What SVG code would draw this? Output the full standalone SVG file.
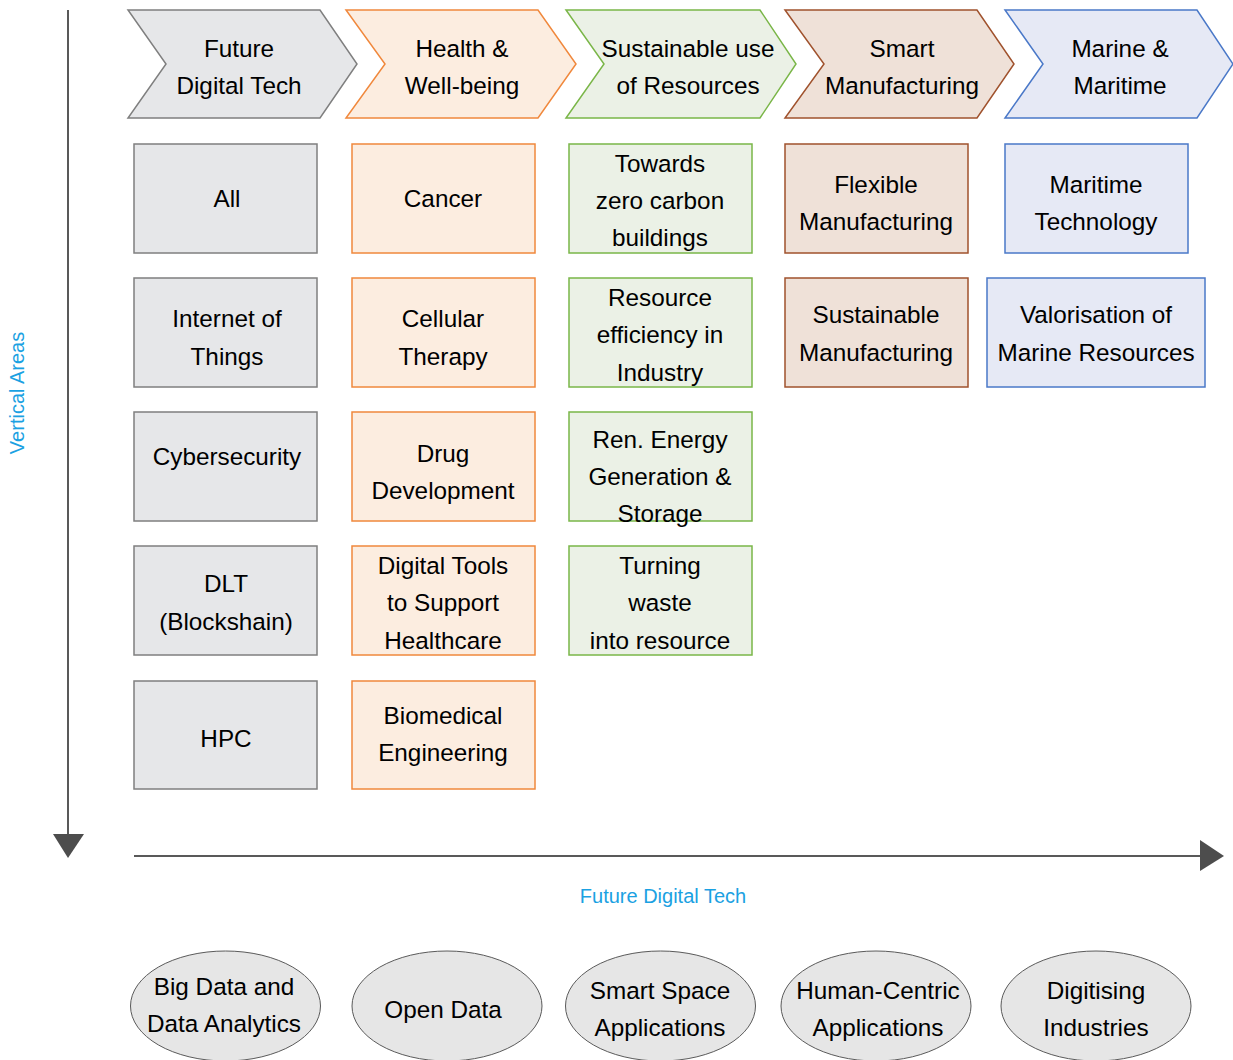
<svg xmlns="http://www.w3.org/2000/svg" width="1233" height="1060" viewBox="0 0 1233 1060">
<style>
text{font-family:"Liberation Sans",Arial,Helvetica,sans-serif;font-size:24.3px;fill:#000;text-anchor:middle;dominant-baseline:central}
.grey{fill:#e6e7e9;stroke:#7f7f7f;stroke-width:1.5}
.orange{fill:#fcede0;stroke:#f0883c;stroke-width:1.5}
.green{fill:#ebf1e6;stroke:#7ab648;stroke-width:1.5}
.brown{fill:#efe1d8;stroke:#a0522d;stroke-width:1.5}
.blue{fill:#e6e9f5;stroke:#4a78c8;stroke-width:1.5}
.ell{fill:#e6e6e6;stroke:#5a5a5a;stroke-width:1}
.axis{stroke:#595959;stroke-width:2;fill:none}
.head{fill:#4d4d4d}
.lbl{fill:#1ba1e2;font-size:20px}
</style>
<g id="axes">
<line class="axis" x1="68" y1="10" x2="68" y2="836"/>
<polygon class="head" points="53,834 84,834 68,858"/>
<line class="axis" x1="134" y1="856" x2="1202" y2="856"/>
<polygon class="head" points="1200,840 1224,856 1200,871"/>
</g>
<text class="lbl" x="0" y="0" transform="translate(17,393) rotate(-90)">Vertical Areas</text>
<text class="lbl" x="663" y="896">Future Digital Tech</text>

<g id="h1"><polygon class="grey" points="128,10 320,10 357,64 320,118 128,118 166,64"/><text x="239" y="48">Future</text><text x="239" y="85">Digital Tech</text></g>
<g id="h2"><polygon class="orange" points="346,10 538,10 576,64 538,118 346,118 385,64"/><text x="462" y="48">Health &amp;</text><text x="462" y="85">Well-being</text></g>
<g id="h3"><polygon class="green" points="566,10 760,10 796,64 760,118 566,118 604,64"/><text x="688" y="48">Sustainable use</text><text x="688" y="85">of Resources</text></g>
<g id="h4"><polygon class="brown" points="785,10 977,10 1014,64 977,118 785,118 824,64"/><text x="902" y="48">Smart</text><text x="902" y="85">Manufacturing</text></g>
<g id="h5"><polygon class="blue" points="1005,10 1197,10 1233,64 1197,118 1005,118 1043,64"/><text x="1120" y="48">Marine &amp;</text><text x="1120" y="85">Maritime</text></g>

<g id="c1r1"><rect class="grey" x="134" y="144" width="183" height="109"/><text x="227" y="198">All</text></g>
<g id="c1r2"><rect class="grey" x="134" y="278" width="183" height="109"/><text x="227" y="318">Internet of</text><text x="227" y="356">Things</text></g>
<g id="c1r3"><rect class="grey" x="134" y="412" width="183" height="109"/><text x="227" y="456">Cybersecurity</text></g>
<g id="c1r4"><rect class="grey" x="134" y="546" width="183" height="109"/><text x="226" y="583">DLT</text><text x="226" y="621">(Blockshain)</text></g>
<g id="c1r5"><rect class="grey" x="134" y="681" width="183" height="108"/><text x="226" y="738">HPC</text></g>

<g id="c2r1"><rect class="orange" x="352" y="144" width="183" height="109"/><text x="443" y="198">Cancer</text></g>
<g id="c2r2"><rect class="orange" x="352" y="278" width="183" height="109"/><text x="443" y="318">Cellular</text><text x="443" y="356">Therapy</text></g>
<g id="c2r3"><rect class="orange" x="352" y="412" width="183" height="109"/><text x="443" y="453">Drug</text><text x="443" y="490">Development</text></g>
<g id="c2r4"><rect class="orange" x="352" y="546" width="183" height="109"/><text x="443" y="565">Digital Tools</text><text x="443" y="602">to Support</text><text x="443" y="640">Healthcare</text></g>
<g id="c2r5"><rect class="orange" x="352" y="681" width="183" height="108"/><text x="443" y="715">Biomedical</text><text x="443" y="752">Engineering</text></g>

<g id="c3r1"><rect class="green" x="569" y="144" width="183" height="109"/><text x="660" y="163">Towards</text><text x="660" y="200">zero carbon</text><text x="660" y="237">buildings</text></g>
<g id="c3r2"><rect class="green" x="569" y="278" width="183" height="109"/><text x="660" y="297">Resource</text><text x="660" y="334">efficiency in</text><text x="660" y="372">Industry</text></g>
<g id="c3r3"><rect class="green" x="569" y="412" width="183" height="109"/><text x="660" y="439">Ren. Energy</text><text x="660" y="476">Generation &amp;</text><text x="660" y="513">Storage</text></g>
<g id="c3r4"><rect class="green" x="569" y="546" width="183" height="109"/><text x="660" y="565">Turning</text><text x="660" y="602">waste</text><text x="660" y="640">into resource</text></g>

<g id="c4r1"><rect class="brown" x="785" y="144" width="183" height="109"/><text x="876" y="184">Flexible</text><text x="876" y="221">Manufacturing</text></g>
<g id="c4r2"><rect class="brown" x="785" y="278" width="183" height="109"/><text x="876" y="314">Sustainable</text><text x="876" y="352">Manufacturing</text></g>

<g id="c5r1"><rect class="blue" x="1005" y="144" width="183" height="109"/><text x="1096" y="184">Maritime</text><text x="1096" y="221">Technology</text></g>
<g id="c5r2"><rect class="blue" x="987" y="278" width="218" height="109"/><text x="1096" y="314">Valorisation of</text><text x="1096" y="352">Marine Resources</text></g>

<g id="e1"><ellipse class="ell" cx="225.5" cy="1006" rx="95" ry="55"/><text x="224" y="986">Big Data and</text><text x="224" y="1023">Data Analytics</text></g>
<g id="e2"><ellipse class="ell" cx="447" cy="1006" rx="95" ry="55"/><text x="443" y="1009">Open Data</text></g>
<g id="e3"><ellipse class="ell" cx="660.5" cy="1006" rx="95" ry="55"/><text x="660" y="990">Smart Space</text><text x="660" y="1027">Applications</text></g>
<g id="e4"><ellipse class="ell" cx="876" cy="1006" rx="95" ry="55"/><text x="878" y="990">Human-Centric</text><text x="878" y="1027">Applications</text></g>
<g id="e5"><ellipse class="ell" cx="1096" cy="1006" rx="95" ry="55"/><text x="1096" y="990">Digitising</text><text x="1096" y="1027">Industries</text></g>
</svg>
